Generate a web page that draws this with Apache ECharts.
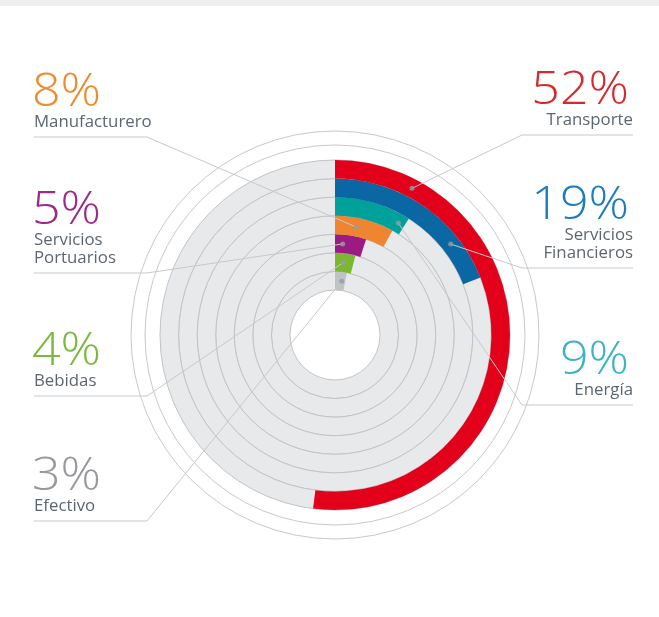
<!DOCTYPE html>
<html><head><meta charset="utf-8">
<script src="https://cdn.jsdelivr.net/npm/echarts@6/dist/echarts.min.js"></script>
<style>html,body{margin:0;padding:0;background:#fff}#c{width:659px;height:617px}</style>
</head><body><div id="c"></div>
<script>
// Data (inner ring -> outer ring)
const categories = ['Efectivo','Bebidas','Servicios Portuarios','Manufacturero','Energía','Servicios Financieros','Transporte'];
const values = [3, 4, 5, 8, 9, 19, 52];
const percentLabels = ['3%','4%','5%','8%','9%','19%','52%'];
const labelLines = [['Efectivo'],['Bebidas'],['Servicios','Portuarios'],['Manufacturero'],['Energía'],['Servicios','Financieros'],['Transporte']];
// where on each arc the leader line is anchored (angle-axis units)
const anchorAt = [2.0, 1.8, 1.35, 3.1, 8.2, 14.4, 7.7];

// Styles / layout
const barColors = ['#c0c3c6','#7cb82f','#9b1b83','#ef8431','#00a19a','#0a67a3','#e2001a'];
const textColors = ['#97999c','#7ab940','#9c2a8a','#ef8a2e','#3bb3c3','#1a7bbd','#d42a2e'];
const labelSide = ['L','L','L','L','R','R','R'];
const labelLineY = [521, 396, 273, 137, 405, 268, 135];

const CX = 335, CY = 335;
const chart = echarts.init(document.getElementById('c'), null, {renderer:'canvas'});
const font = "'Open Sans','Roboto',sans-serif";

chart.setOption({
  animation: false,
  backgroundColor: '#ffffff',
  polar: { center: [CX, CY], radius: [45, 175] },
  angleAxis: {
    type: 'value', min: 0, max: 100, startAngle: 90, clockwise: true,
    axisLine: {show:false}, axisTick:{show:false}, axisLabel:{show:false}, splitLine:{show:false}
  },
  radiusAxis: {
    type: 'category', data: categories,
    axisLine:{show:false}, axisTick:{show:false}, axisLabel:{show:false}, splitLine:{show:false}
  },
  series: [
    {
      type: 'bar', coordinateSystem: 'polar', z: 0,
      barCategoryGap: '0%', barGap: '-100%',
      data: categories.map(() => 100),
      itemStyle: {color: '#e8e9eb', borderColor: '#c3c4c6', borderWidth: 1}, silent: true
    },
    {
      type: 'bar', coordinateSystem: 'polar', z: 10,
      barCategoryGap: '0%', barGap: '-100%',
      data: values.map((v, i) => ({value: v, itemStyle: {color: barColors[i]}}))
    },
    {
      type: 'scatter', coordinateSystem: 'polar', z: 20,
      symbolSize: 5, itemStyle: {color: '#939ca2'},
      data: anchorAt.map((a, i) => [i, a])
    }
  ]
});

const graphics = [];
graphics.push({type:'rect', shape:{x:0,y:0,width:659,height:6}, style:{fill:'#eeeff1'}, z: 0});
[190, 204].forEach(r => graphics.push({type:'circle', shape:{cx:CX, cy:CY, r:r}, style:{fill:null, stroke:'#c8c9cb', lineWidth:1}, z: 1}));

for (let i = 0; i < categories.length; i++) {
  const p = chart.convertToPixel({seriesIndex: 2}, [i, anchorAt[i]]);
  const left = labelSide[i] === 'L';
  const ly = labelLineY[i];
  const elbowX = left ? 147 : 522;
  const endX = left ? 34 : 633;
  graphics.push({type:'polyline', shape:{points:[p, [elbowX, ly], [endX, ly]]},
    style:{stroke:'#c8c9cb', lineWidth:1, fill:null}, z: 15});
  const n = labelLines[i].length;
  const align = left ? 'left' : 'right';
  const tx = left ? 34 : 633;
  graphics.push({type:'text', x: tx - (left ? 2 : 4), y: ly - 44 - 18.5*(n-1), scaleX: 1.09,
    style:{text: percentLabels[i], fill: textColors[i], font: `300 46px ${font}`, align: align, verticalAlign:'middle'}, z: 15});
  labelLines[i].forEach((t, k) => {
    graphics.push({type:'text', x: tx, y: ly - 14.5 - 18.5*(n-1-k), scaleX: 1.05,
      style:{text: t, fill:'#5b6670', font: `400 16px ${font}`, align: align, verticalAlign:'middle'}, z: 15});
  });
}
chart.setOption({graphic: {elements: graphics}});
</script>
</body></html>
